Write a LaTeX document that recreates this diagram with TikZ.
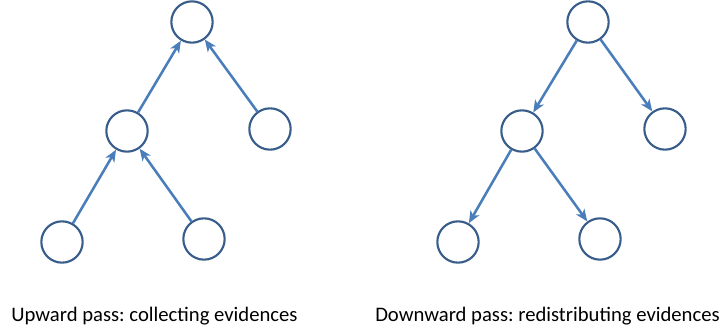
\documentclass[tikz,border=0pt]{standalone}
\usepackage{fontspec}
\setmainfont{Carlito}
\usetikzlibrary{arrows.meta}
\frenchspacing

\definecolor{ringblue}{HTML}{385D8A}
\definecolor{arrowblue}{HTML}{4A7EBB}

\begin{document}
\begin{tikzpicture}[x=0.75pt,y=-0.75pt,
        vertex/.style={shape=circle, draw=ringblue, line width=1.6pt,
        minimum size=31pt, inner sep=0pt},
        pass/.style={draw=arrowblue, line width=1.9pt,
        -{Stealth[length=9pt,width=7.5pt,inset=2.5pt]}},
        caption/.style={anchor=base, font=\fontsize{15.5}{18}\selectfont}]
      \useasboundingbox (0,0) rectangle (724,327);
      \node[vertex,name=uroot] at (192,22) {};
      \node[vertex,name=umid] at (127,131) {};
      \node[vertex,name=uright] at (270,129) {};
      \node[vertex,name=uleaf1] at (62,242) {};
      \node[vertex,name=uleaf2] at (204,239) {};
      \draw[pass] (umid)   -- (uroot);
      \draw[pass] (uright) -- (uroot);
      \draw[pass] (uleaf1) -- (umid);
      \draw[pass] (uleaf2) -- (umid);
      \node[caption,name=ucap] at (154.5,321) {Upward pass: collecting evidences};
      \node[vertex,name=droot] at (588,22) {};
      \node[vertex,name=dmid] at (522,131) {};
      \node[vertex,name=dright] at (665,129) {};
      \node[vertex,name=dleaf1] at (458,242) {};
      \node[vertex,name=dleaf2] at (600,239) {};
      \draw[pass] (droot) -- (dmid);
      \draw[pass] (droot) -- (dright);
      \draw[pass] (dmid)  -- (dleaf1);
      \draw[pass] (dmid)  -- (dleaf2);
      \node[caption,name=dcap] at (547.5,321) {Downward pass: redistributing evidences};
    \end{tikzpicture}
\end{document}
